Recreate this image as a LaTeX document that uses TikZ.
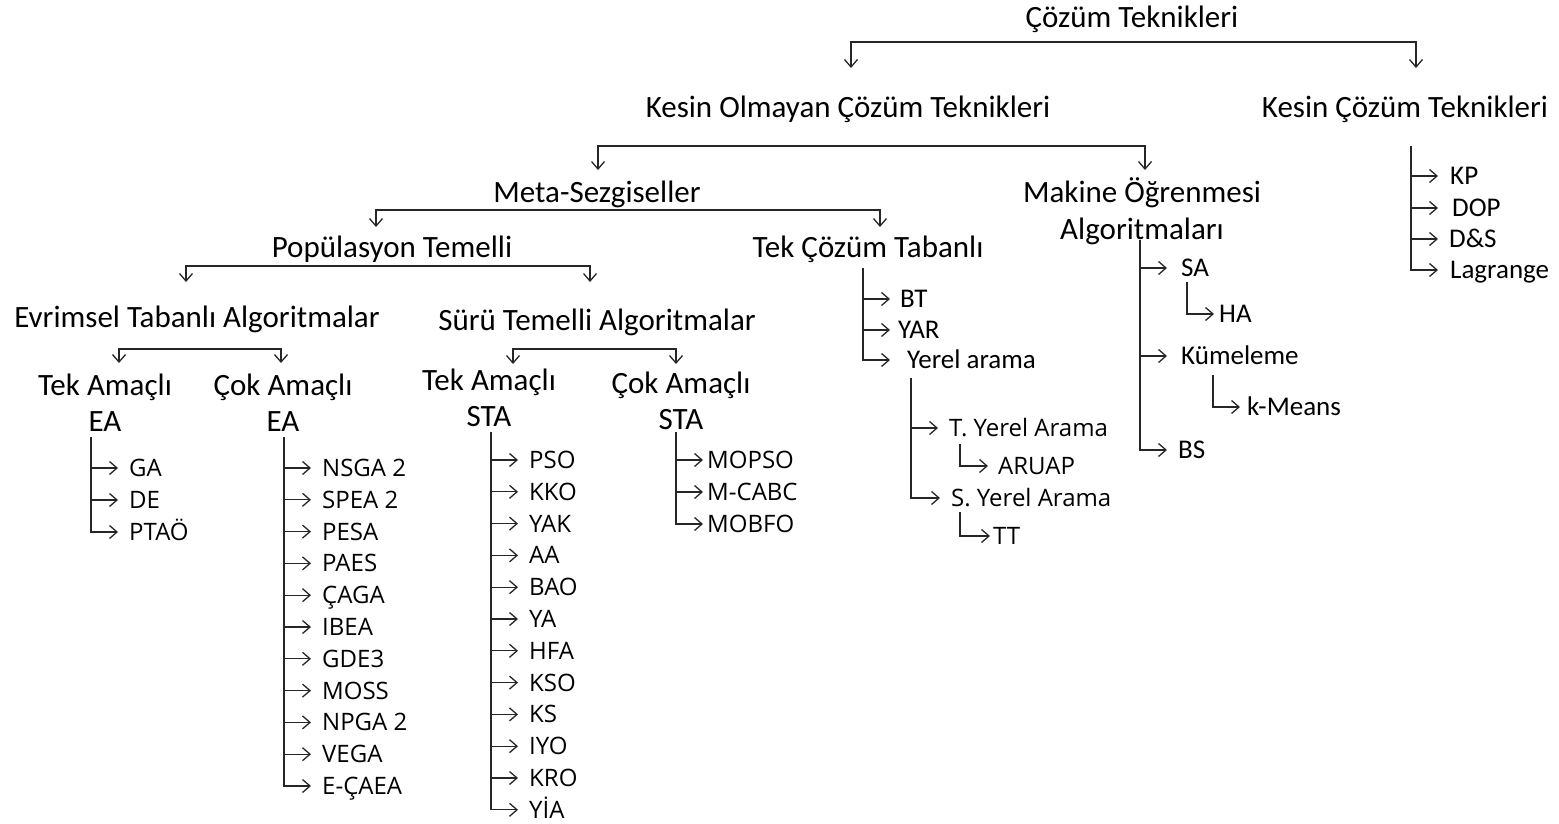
\documentclass[tikz,border=0pt]{standalone}
\usepackage{fontspec}
\setmainfont{Carlito}
\newfontfamily\osf{Open Sans}
\usetikzlibrary{arrows.meta}
\begin{document}
\begin{tikzpicture}[x=1pt,y=-1pt,
  hd/.style={font=\fontsize{31}{33}\selectfont, inner sep=0pt, text height=20pt, text depth=0pt},
  it/.style={font=\fontsize{27}{29}\selectfont, inner sep=0pt, anchor=west, text height=17.4pt, text depth=0pt},
  os/.style={font=\osf\fontsize{24}{26}\selectfont, inner sep=0pt, anchor=west, text height=17.1pt, text depth=0pt},
  ln/.style={line width=1.3pt, draw=black!85},
  tip/.tip={Straight Barb[length=7.5pt,width=13pt]},
  arr/.style={ln, -tip},
  bk/.style={ln, tip-tip}
]
\useasboundingbox (0,0) rectangle (1559,824);

% headers
\node[hd] (root) at (1132,18) {Çözüm Teknikleri};
\node[hd] (kom) at (848,108) {Kesin Olmayan Çözüm Teknikleri};
\node[hd] (kct) at (1405,108) {Kesin Çözüm Teknikleri};
\node[hd] (meta) at (597,193) {Meta-Sezgiseller};
\node[hd] (mak1) at (1142,193) {Makine Öğrenmesi};
\node[hd] (mak2) at (1142,229) {Algoritmaları};
\node[hd] (pop) at (392,247) {Popülasyon Temelli};
\node[hd] (tcb) at (868,247) {Tek Çözüm Tabanlı};
\node[hd] (evr) at (197,317) {Evrimsel Tabanlı Algoritmalar};
\node[hd] (suru) at (597,320) {Sürü Temelli Algoritmalar};
\node[hd] (tea1) at (105,385) {Tek Amaçlı};
\node[hd] (tea2) at (105,421) {EA};
\node[hd] (cea1) at (283,385) {Çok Amaçlı};
\node[hd] (cea2) at (283,421) {EA};
\node[hd] (tsta1) at (489,380) {Tek Amaçlı};
\node[hd] (tsta2) at (489,416) {STA};
\node[hd] (csta1) at (681,383) {Çok Amaçlı};
\node[hd] (csta2) at (681,419) {STA};

% brackets
\coordinate (b0l) at (851,68); \coordinate (b0L) at (851,42); \coordinate (b0R) at (1416,42); \coordinate (b0r) at (1416,68);
\draw[bk] (b0l) -- (b0L) -- (b0R) -- (b0r);
\coordinate (b1l) at (598,170); \coordinate (b1L) at (598,146); \coordinate (b1R) at (1145,146); \coordinate (b1r) at (1145,170);
\draw[bk] (b1l) -- (b1L) -- (b1R) -- (b1r);
\coordinate (b2l) at (376,227); \coordinate (b2L) at (376,210); \coordinate (b2R) at (880,210); \coordinate (b2r) at (880,227);
\draw[bk] (b2l) -- (b2L) -- (b2R) -- (b2r);
\coordinate (b3l) at (186,282); \coordinate (b3L) at (186,266); \coordinate (b3R) at (590,266); \coordinate (b3r) at (590,282);
\draw[bk] (b3l) -- (b3L) -- (b3R) -- (b3r);
\coordinate (b4l) at (119,363); \coordinate (b4L) at (119,349); \coordinate (b4R) at (281,349); \coordinate (b4r) at (281,363);
\draw[bk] (b4l) -- (b4L) -- (b4R) -- (b4r);
\coordinate (b5l) at (513,364); \coordinate (b5L) at (513,349); \coordinate (b5R) at (676,349); \coordinate (b5r) at (676,364);
\draw[bk] (b5l) -- (b5L) -- (b5R) -- (b5r);

% Kesin Cozum list
\coordinate (kctTop) at (1411,146);
\node[it] (kp) at (1450,176) {KP};
\node[it] (dop) at (1452,208) {DOP};
\node[it] (ds) at (1449,239) {D\&S};
\node[it] (lag) at (1450,270) {Lagrange};
\foreach \n in {kp,dop,ds,lag} \draw[arr] (kctTop) |- (\n.west -| 1438,0);

% Tek Cozum Tabanli list
\coordinate (tcbTop) at (863,268);
\node[it] (bt) at (900,299) {BT};
\node[it] (yar) at (898,330) {YAR};
\node[it] (ya) at (907,360) {Yerel arama};
\foreach \n in {bt,yar,ya} \draw[arr] (tcbTop) |- (\n.west -| 890,0);

\coordinate (yaTop) at (911,378);
\node[os] (tya) at (949,428) {T. Yerel Arama};
\node[os] (sya) at (951,498) {S. Yerel Arama};
\draw[arr] (yaTop) |- (tya.west -| 938,0);
\draw[arr] (yaTop) |- (sya.west -| 940,0);
\coordinate (tyaTop) at (960,444);
\node[os] (aruap) at (998,466) {ARUAP};
\draw[arr] (tyaTop) |- (aruap.west -| 988,0);
\coordinate (syaTop) at (960,512);
\node[os] (tt) at (993,536) {TT};
\draw[arr] (syaTop) |- (tt.west -| 990,0);

% Makine list
\coordinate (makTop) at (1140,240);
\node[it] (sa) at (1181,268) {SA};
\node[it] (kum) at (1181,356) {Kümeleme};
\node[it] (bs) at (1178,450) {BS};
\foreach \n in {sa,kum,bs} \draw[arr] (makTop) |- (\n.west -| 1167,0);
\coordinate (saTop) at (1187,282);
\node[it] (ha) at (1219,314) {HA};
\draw[arr] (saTop) |- (ha.west -| 1214,0);
\coordinate (kumTop) at (1213,375);
\node[it] (km) at (1247,407) {k-Means};
\draw[arr] (kumTop) |- (km.west -| 1240,0);

% Tek amacli EA
\coordinate (teaTop) at (91,437);
\foreach \t [count=\i] in {GA,DE,PTAÖ} {
  \node[os] (tea-\i) at (129,{468+(\i-1)*32}) {\t};
  \draw[arr] (teaTop) |- (tea-\i.west -| 118,0);
}
% Cok amacli EA
\coordinate (ceaTop) at (284,437);
\foreach \t [count=\i] in {NSGA 2,SPEA 2,PESA,PAES,ÇAGA,IBEA,GDE3,MOSS,NPGA 2,VEGA,E-ÇAEA} {
  \node[os] (cea-\i) at (322,{468+(\i-1)*31.8}) {\t};
  \draw[arr] (ceaTop) |- (cea-\i.west -| 311,0);
}
% Tek amacli STA
\coordinate (tstaTop) at (491,432);
\foreach \t [count=\i] in {PSO,KKO,YAK,AA,BAO,YA,HFA,KSO,KS,IYO,KRO,YİA} {
  \node[os] (tsta-\i) at (529,{460+(\i-1)*31.8}) {\t};
  \draw[arr] (tstaTop) |- (tsta-\i.west -| 518,0);
}
% Cok amacli STA
\coordinate (cstaTop) at (676,432);
\foreach \t [count=\i] in {MOPSO,M-CABC,MOBFO} {
  \node[os] (csta-\i) at (707,{460+(\i-1)*32}) {\t};
  \draw[arr] (cstaTop) |- (csta-\i.west -| 703,0);
}
\end{tikzpicture}
\end{document}
